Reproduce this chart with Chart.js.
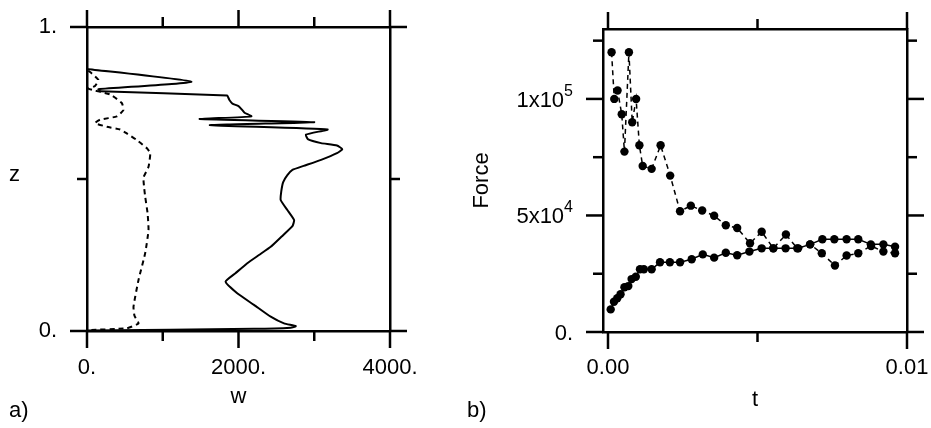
<!DOCTYPE html>
<html>
<head>
<meta charset="utf-8">
<script src="https://cdn.jsdelivr.net/npm/chart.js"></script>
<style>
  body { margin: 0; background: #fff; }
  #lienzo { position: relative; width: 931px; height: 428px; font-family: "Liberation Sans", Arial, sans-serif; color: #000; }
  #lienzo canvas { position: absolute; top: 0; }
  .txt { position: absolute; font-size: 22px; line-height: 22px; }
</style>
</head>
<body>
<div id="lienzo">
  <canvas id="panelA" width="465" height="428" style="left:0"></canvas>
  <canvas id="panelB" width="466" height="428" style="left:465px"></canvas>
  <div class="txt" style="left:9px;top:163px">z</div>
  <div class="txt" style="left:9px;top:399px">a)</div>
  <div class="txt" style="left:467px;top:399px">b)</div>
</div>
<script>
// ---- a) perfil w(z): curva continua y curva discontinua ----
const zSolida = [0.862, 0.820, 0.795, 0.789, 0.775, 0.768, 0.760, 0.748, 0.740, 0.728, 0.718, 0.706,
  0.697, 0.687, 0.677, 0.663, 0.646, 0.630, 0.618, 0.610, 0.598, 0.585, 0.563, 0.543, 0.530, 0.513,
  0.490, 0.460, 0.431, 0.398, 0.365, 0.345, 0.311, 0.277, 0.250, 0.223, 0.190, 0.162, 0.124, 0.086,
  0.047, 0.025, 0.016, 0.011, 0.007, 0.002];
const wSolida = [0, 1378, 150, 180, 1850, 1865, 1880, 1920, 2000, 2045, 2080, 2170,
  1488, 3000, 1621, 3175, 2890, 2920, 3090, 3300, 3370, 3300, 3090, 2860, 2712, 2645,
  2590, 2565, 2557, 2645, 2734, 2712, 2570, 2425, 2270, 2116, 1960, 1829, 1983, 2204,
  2425, 2601, 2756, 2690, 2204, 0];

const zDiscontinua = [0.857, 0.826, 0.806, 0.797, 0.778, 0.750, 0.727, 0.706, 0.695, 0.684, 0.672,
  0.663, 0.650, 0.628, 0.601, 0.585, 0.540, 0.505, 0.470, 0.442, 0.387, 0.332, 0.256, 0.168,
  0.080, 0.050, 0.025, 0.009, 0.003];
const wDiscontinua = [17, 150, 106, 17, 305, 459, 481, 393, 172, 106, 261,
  437, 525, 658, 791, 835, 812, 746, 755, 768, 800, 812, 768, 680,
  614, 627, 680, 525, 0];

const wTicks = [0, 1000, 2000, 3000, 4000];
const wEtiquetas = ['0.', '', '2000.', '', '4000.'];
const zTicks = [0, 0.5, 1];
const zEtiquetas = ['0.', '', '1.'];

// ---- b) fuerza frente al tiempo ----
const tSuperior = [0.00012, 0.00021, 0.00032, 0.00046, 0.00055, 0.0007, 0.00081, 0.00094, 0.00105,
  0.00116, 0.00146, 0.00176, 0.00208, 0.00241, 0.00277, 0.00315, 0.00355, 0.00394, 0.00432,
  0.00475, 0.00514, 0.00553, 0.00595, 0.00633, 0.00676, 0.00715, 0.00759, 0.00798, 0.00837,
  0.0088, 0.00921, 0.0096];
const fuerzaSuperior = [120000, 100000, 103600, 93400, 77400, 120000, 90000, 100000, 80100,
  71200, 70000, 80100, 67100, 51800, 54200, 52100, 49900, 45800, 44600,
  38100, 43000, 35900, 41800, 35900, 37600, 33800, 28500, 32800, 33800,
  36900, 34500, 33800];

const tInferior = [0.00009, 0.0002, 0.00031, 0.00042, 0.00055, 0.00068, 0.00079, 0.00093, 0.00107,
  0.0012, 0.00146, 0.00174, 0.00207, 0.00241, 0.0028, 0.00317, 0.00355, 0.00394, 0.00432,
  0.00473, 0.00514, 0.00553, 0.00594, 0.00636, 0.00676, 0.00717, 0.00757, 0.00798, 0.00837,
  0.00879, 0.00921, 0.0096];
const fuerzaInferior = [9700, 13000, 14500, 16200, 19200, 19700, 22700, 23700, 26900,
  26900, 26900, 29900, 29900, 29900, 31200, 33300, 31900, 34000, 32900,
  34500, 35900, 35900, 35900, 35900, 37600, 39800, 39800, 39800, 39800,
  37600, 37600, 36600];

const tTicks = [0, 0.005, 0.01];
const tEtiquetas = ['0.00', '', '0.01'];
const fTicks = [0, 25000, 50000, 75000, 100000, 125000];
const fEtiquetas = ['0.', '', '5x10^4', '', '1x10^5', ''];   // '^' marca el exponente

// ---- utilidades ----
const familia = '"Liberation Sans", Arial, sans-serif';
const fuente = { family: familia, size: 22 };
const puntos = (xs, ys) => xs.map((x, i) => ({ x, y: ys[i] }));

// marcas hacia fuera (largas donde hay etiqueta, cortas donde no)
// y etiquetas con exponente dibujadas a mano
const marcas = {
  id: 'marcas',
  afterDraw(chart) {
    const ctx = chart.ctx;
    ctx.save();
    ctx.strokeStyle = '#000';
    ctx.fillStyle = '#000';
    ctx.lineWidth = 2.5;
    Object.values(chart.scales).forEach(s => {
      const etiquetas = s.etiquetas || [];
      s.ticks.forEach((t, i) => {
        const largo = etiquetas[i] ? 17 : 10;
        const p = s.getPixelForValue(t.value);
        ctx.beginPath();
        if (s.position === 'bottom') { ctx.moveTo(p, s.top); ctx.lineTo(p, s.top + largo); }
        else if (s.position === 'top') { ctx.moveTo(p, s.bottom); ctx.lineTo(p, s.bottom - largo); }
        else if (s.position === 'left') { ctx.moveTo(s.right, p); ctx.lineTo(s.right - largo, p); }
        else { ctx.moveTo(s.left, p); ctx.lineTo(s.left + largo, p); }
        ctx.stroke();

        if (s.exponente && etiquetas[i]) {
          const [base, exp] = etiquetas[i].split('^');
          const xd = s.right - 30;
          ctx.textAlign = 'right';
          ctx.textBaseline = 'alphabetic';
          let anchoExp = 0;
          if (exp) {
            ctx.font = '16px ' + familia;
            anchoExp = ctx.measureText(exp).width;
            ctx.fillText(exp, xd, p - 3);
          }
          ctx.font = '22px ' + familia;
          ctx.fillText(base, xd - anchoExp, p + 8);
        }
      });
    });
    ctx.restore();
  }
};

// eje lineal con ticks fijos y tamaño de caja fijo (sin relleno extra para las etiquetas)
// texto: true = etiquetas de Chart.js, false = sin etiquetas, 'exp' = etiquetas con exponente
function eje(posicion, min, max, valores, etiquetas, tam, texto, padding) {
  return {
    type: 'linear',
    position: posicion,
    min, max,
    afterBuildTicks: s => {
      s.ticks = valores.map(v => ({ value: v }));
      s.etiquetas = etiquetas;
      s.exponente = texto === 'exp';
    },
    afterFit: s => {
      if (s.isHorizontal()) s.height = tam; else s.width = tam;
      s.paddingTop = s.paddingBottom = s.paddingLeft = s.paddingRight = 0;
    },
    grid: { drawOnChartArea: false, drawTicks: false },
    border: { display: true, color: '#000', width: 2.5 },
    ticks: {
      display: texto === true, autoSkip: false, maxRotation: 0, minRotation: 0,
      padding, color: '#000', font: fuente,
      callback: (v, i) => etiquetas[i]
    }
  };
}

const base = {
  responsive: false,
  animation: false,
  devicePixelRatio: 1,
  layout: { padding: 0 },
  plugins: { legend: { display: false }, tooltip: { enabled: false } }
};

// ---- a) ----
new Chart(document.getElementById('panelA'), {
  type: 'scatter',
  data: {
    datasets: [
      { data: puntos(wSolida, zSolida), showLine: true, borderColor: '#000', borderWidth: 2,
        pointRadius: 0, tension: 0.15 },
      { data: puntos(wDiscontinua, zDiscontinua), showLine: true, borderColor: '#000', borderWidth: 2,
        borderDash: [5, 4], pointRadius: 0, tension: 0.15 }
    ]
  },
  options: {
    ...base,
    scales: {
      x: { ...eje('bottom', 0, 4000, wTicks, wEtiquetas, 97, true, 24),
        title: { display: true, text: 'w', color: '#000', font: fuente, padding: { top: 0, bottom: 18 } } },
      x2: eje('top', 0, 4000, wTicks, wEtiquetas, 27, false, 0),
      y: eje('left', 0, 1, zTicks, zEtiquetas, 87, true, 30),
      y2: eje('right', 0, 1, zTicks, zEtiquetas, 75, false, 0)
    }
  },
  plugins: [marcas]
});

// ---- b) ----
new Chart(document.getElementById('panelB'), {
  type: 'scatter',
  data: {
    datasets: [
      { data: puntos(tSuperior, fuerzaSuperior), showLine: true, borderColor: '#000', borderWidth: 1.5,
        borderDash: [5, 4], pointRadius: 4.2, pointBackgroundColor: '#000', pointBorderWidth: 0 },
      { data: puntos(tInferior, fuerzaInferior), showLine: true, borderColor: '#000', borderWidth: 1.5,
        pointRadius: 4.2, pointBackgroundColor: '#000', pointBorderWidth: 0 }
    ]
  },
  options: {
    ...base,
    scales: {
      x: { ...eje('bottom', -0.000167, 0.01, tTicks, tEtiquetas, 96, true, 23),
        title: { display: true, text: 't', color: '#000', font: fuente, padding: { top: 0, bottom: 15 } } },
      x2: eje('top', -0.000167, 0.01, tTicks, tEtiquetas, 29, false, 0),
      y: { ...eje('left', 0, 130000, fTicks, fEtiquetas, 138, 'exp', 30),
        title: { display: true, text: 'Force', color: '#000', font: fuente, padding: { top: 4, bottom: 0 } } },
      y2: eje('right', 0, 130000, fTicks, fEtiquetas, 24, false, 0)
    }
  },
  plugins: [marcas]
});
</script>
</body>
</html>
